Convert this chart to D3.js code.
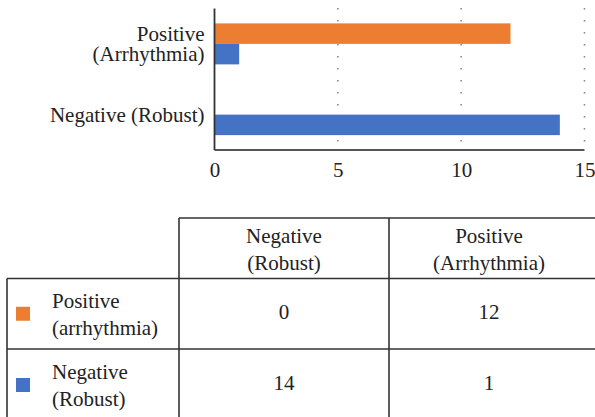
<!DOCTYPE html>
<html>
<head>
<meta charset="utf-8">
<script src="https://cdn.jsdelivr.net/npm/d3@7"></script>
<style>
  body { margin: 0; background: #fff; }
</style>
</head>
<body>
<script>
// chart categories (top to bottom) and the two series
const categories = ['Positive (Arrhythmia)', 'Negative (Robust)']
const categoryLines = [['Positive', '(Arrhythmia)'], ['Negative (Robust)']]
const seriesNames = ['Positive (arrhythmia)', 'Negative (Robust)']
const positiveValues = [12, 0]
const negativeValues = [1, 14]
const xTicks = [0, 5, 10, 15]

// table texts
const tableHeaders = [['Negative', '(Robust)'], ['Positive', '(Arrhythmia)']]
const tableRowLabels = [['Positive', '(arrhythmia)'], ['Negative', '(Robust)']]
const tableRows = [[0, 12], [14, 1]]

const colors = { 'Positive (arrhythmia)': '#ED7D31', 'Negative (Robust)': '#4472C4' }
const serif = "'Liberation Serif'"
const fs = 21

const w = 595
const h = 417

const svg = d3.select('body')
  .append('svg')
  .attr('width', w)
  .attr('height', h)

// ---- bar chart ----
const xScale = d3.scaleLinear()
  .domain([0, 15])
  .range([214.5, 584.5])

const yScale = d3.scaleBand()
  .domain(categories)
  .range([8.5, 150])

const subScale = d3.scaleBand()
  .domain(seriesNames)
  .range([0, yScale.bandwidth()])
  .paddingOuter(0.726)

// dotted gridlines
svg.append('g')
  .selectAll('line')
  .data(xTicks.slice(1))
  .enter()
  .append('line')
  .attr('x1', d => xScale(d))
  .attr('x2', d => xScale(d))
  .attr('y1', 8)
  .attr('y2', 150)
  .attr('stroke', '#8a8a8a')
  .attr('stroke-width', 1.6)
  .attr('stroke-dasharray', '1.6 10.4')

const rows = categories.map((c, i) => ({
  cat: c,
  vals: [
    { s: seriesNames[0], v: positiveValues[i] },
    { s: seriesNames[1], v: negativeValues[i] }
  ]
}))

svg.append('g')
  .selectAll('g')
  .data(rows)
  .enter()
  .append('g')
  .attr('transform', d => 'translate(0,' + yScale(d.cat) + ')')
  .selectAll('rect')
  .data(d => d.vals)
  .enter()
  .append('rect')
  .attr('x', xScale(0))
  .attr('y', d => subScale(d.s))
  .attr('width', d => xScale(d.v) - xScale(0))
  .attr('height', subScale.bandwidth())
  .attr('fill', d => colors[d.s])

const xAxis = d3.axisBottom(xScale)
  .tickValues(xTicks)
  .tickSize(0)
  .tickPadding(12)

svg.append('g')
  .attr('class', 'x-axis')
  .attr('transform', 'translate(0,150)')
  .call(xAxis)
  .call(g => g.select('.domain').attr('stroke', '#555').attr('stroke-width', 2).attr('d', 'M' + xScale(0) + ',0H' + xScale(15)))
  .call(g => g.selectAll('text')
    .attr('fill', '#222')
    .style('font-family', serif)
    .style('font-size', fs + 'px'))

const yAxis = d3.axisLeft(yScale)
  .tickSize(0)
  .tickPadding(10)

svg.append('g')
  .attr('class', 'y-axis')
  .attr('transform', 'translate(' + xScale(0) + ',0)')
  .call(yAxis)
  .call(g => g.select('.domain').attr('stroke', '#333').attr('stroke-width', 1.8).attr('d', 'M0,8.5V150'))
  .call(g => g.selectAll('text')
    .attr('fill', '#222')
    .style('font-family', serif)
    .style('font-size', fs + 'px')
    .attr('dy', null)
    .each(function (d) {
      const lines = categoryLines[categories.indexOf(d)]
      const t = d3.select(this).text(null)
      lines.forEach((ln, j) => {
        t.append('tspan')
          .attr('x', -10)
          .attr('y', (j - (lines.length - 1) / 2) * 20)
          .attr('dy', '0.35em')
          .text(ln)
      })
    }))

// ---- table ----
const colX = [7, 179, 389, 590]
const rowY = [218, 278.5, 349, 421]
const lineColor = '#333'
const lineH = 27

const table = svg.append('g').attr('class', 'table')

// horizontal lines
table.append('line')
  .attr('x1', colX[1]).attr('x2', w).attr('y1', rowY[0]).attr('y2', rowY[0])
  .attr('stroke', lineColor).attr('stroke-width', 1.6)
table.selectAll('.hline')
  .data([rowY[1], rowY[2]])
  .enter()
  .append('line')
  .attr('x1', colX[0]).attr('x2', w)
  .attr('y1', d => d).attr('y2', d => d)
  .attr('stroke', lineColor).attr('stroke-width', 1.6)

// vertical lines
table.append('line')
  .attr('x1', colX[0]).attr('x2', colX[0]).attr('y1', rowY[1]).attr('y2', h)
  .attr('stroke', lineColor).attr('stroke-width', 1.6)
table.selectAll('.vline')
  .data([colX[1], colX[2]])
  .enter()
  .append('line')
  .attr('x1', d => d).attr('x2', d => d)
  .attr('y1', rowY[0]).attr('y2', h)
  .attr('stroke', lineColor).attr('stroke-width', 1.6)

const addText = (g) => g.append('text')
  .attr('fill', '#222')
  .style('font-family', serif)
  .style('font-size', fs + 'px')

const multiLine = (g, lines, x, cy, anchor) => {
  const t = addText(g).attr('text-anchor', anchor)
  lines.forEach((ln, j) => {
    t.append('tspan')
      .attr('x', x)
      .attr('y', cy + (j - (lines.length - 1) / 2) * lineH)
      .attr('dy', '0.35em')
      .text(ln)
  })
}

const colCenter = [284, 489]

tableHeaders.forEach((lines, i) => multiLine(table, lines, colCenter[i], 249.5, 'middle'))

tableRowLabels.forEach((lines, i) => {
  const cy = (rowY[i + 1] + rowY[i + 2]) / 2
  table.append('rect')
    .attr('x', 16)
    .attr('y', cy - 7)
    .attr('width', 14)
    .attr('height', 14)
    .attr('fill', colors[seriesNames[i]])
  multiLine(table, lines, 52, cy, 'start')
  tableRows[i].forEach((v, j) => {
    addText(table)
      .attr('text-anchor', 'middle')
      .attr('x', colCenter[j])
      .attr('y', cy - 2)
      .attr('dy', '0.35em')
      .text(v)
  })
})
</script>
</body>
</html>
